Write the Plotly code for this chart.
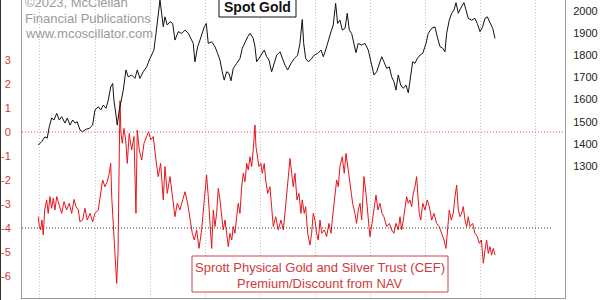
import plotly.graph_objects as go

# ---- data (x in decimal years) ----
gold_t = [2019.485, 2019.515, 2019.545, 2019.566, 2019.584, 2019.606, 2019.627, 2019.652, 2019.675, 2019.697,
          2019.727, 2019.748, 2019.772, 2019.797, 2019.818, 2019.838, 2019.863, 2019.887, 2019.917, 2019.947,
          2019.978, 2019.999, 2020.029, 2020.051, 2020.074, 2020.099, 2020.120, 2020.142, 2020.160, 2020.171,
          2020.190, 2020.201, 2020.220, 2020.241, 2020.256, 2020.280, 2020.301, 2020.332, 2020.362, 2020.383,
          2020.407, 2020.437, 2020.468, 2020.492, 2020.514, 2020.534, 2020.553, 2020.568, 2020.589, 2020.604,
          2020.619, 2020.634, 2020.655, 2020.680, 2020.704, 2020.725, 2020.755, 2020.786, 2020.816, 2020.846,
          2020.870, 2020.891, 2020.906, 2020.931, 2020.952, 2020.973, 2020.991, 2021.009, 2021.027, 2021.058,
          2021.088, 2021.112, 2021.133, 2021.154, 2021.172, 2021.194, 2021.215, 2021.233, 2021.254, 2021.285,
          2021.315, 2021.336, 2021.360, 2021.385, 2021.406, 2021.435, 2021.451, 2021.466, 2021.487, 2021.512,
          2021.535, 2021.557, 2021.578, 2021.602, 2021.626, 2021.648, 2021.678, 2021.699, 2021.723, 2021.748,
          2021.778, 2021.808, 2021.838, 2021.859, 2021.880, 2021.893, 2021.911, 2021.935, 2021.959, 2021.989,
          2022.020, 2022.050, 2022.071, 2022.092, 2022.116, 2022.141, 2022.161, 2022.183, 2022.201, 2022.222,
          2022.243, 2022.268, 2022.288, 2022.307, 2022.328, 2022.349, 2022.367, 2022.388, 2022.419, 2022.449,
          2022.479, 2022.510, 2022.531, 2022.555, 2022.579, 2022.601, 2022.621, 2022.646, 2022.670, 2022.691,
          2022.712, 2022.730, 2022.751, 2022.773, 2022.797, 2022.821, 2022.842, 2022.864, 2022.882, 2022.903,
          2022.924, 2022.948, 2022.973, 2023.003, 2023.023, 2023.054, 2023.084, 2023.105, 2023.130, 2023.154,
          2023.175, 2023.190, 2023.214, 2023.236, 2023.257, 2023.275, 2023.296, 2023.317, 2023.347, 2023.366,
          2023.386, 2023.417, 2023.447, 2023.468, 2023.493, 2023.517, 2023.538, 2023.559, 2023.583, 2023.608,
          2023.629]
gold_px = [1395, 1410, 1432, 1426, 1477, 1517, 1508, 1538, 1508, 1523,
           1494, 1517, 1485, 1508, 1494, 1500, 1463, 1455, 1466, 1470,
           1485, 1553, 1568, 1553, 1575, 1561, 1598, 1658, 1673, 1598,
           1530, 1485, 1553, 1598, 1643, 1734, 1703, 1711, 1696, 1734,
           1696, 1726, 1748, 1779, 1801, 1824, 1899, 1974, 2050, 1990,
           1929, 1974, 1937, 1952, 1944, 1869, 1907, 1899, 1914, 1900,
           1877, 1854, 1771, 1839, 1869, 1907, 1929, 1944, 1854, 1861,
           1839, 1809, 1779, 1726, 1688, 1726, 1719, 1685, 1741, 1764,
           1786, 1832, 1861, 1884, 1899, 1877, 1839, 1771, 1786, 1809,
           1824, 1794, 1779, 1726, 1764, 1801, 1816, 1786, 1756, 1734,
           1764, 1786, 1801, 1854, 1962, 1854, 1786, 1771, 1782, 1801,
           1809, 1824, 1794, 1824, 1869, 1907, 1937, 2035, 1944, 1959,
           1914, 1922, 1990, 1914, 1899, 1854, 1812, 1854, 1846, 1854,
           1824, 1756, 1711, 1726, 1764, 1794, 1771, 1741, 1748, 1703,
           1681, 1643, 1711, 1666, 1651, 1666, 1631, 1719, 1771, 1764,
           1786, 1801, 1809, 1854, 1899, 1922, 1929, 1884, 1839, 1832,
           1816, 1899, 1959, 1990, 2005, 2038, 1990, 2012, 2038, 2005,
           1967, 1959, 1967, 1944, 1907, 1929, 1967, 1974, 1944, 1922,
           1877]

cef_t = [2019.485, 2019.494, 2019.506, 2019.518, 2019.530, 2019.543, 2019.561, 2019.575, 2019.591, 2019.606,
         2019.621, 2019.636, 2019.652, 2019.675, 2019.697, 2019.718, 2019.742, 2019.766, 2019.788, 2019.809,
         2019.827, 2019.848, 2019.863, 2019.887, 2019.908, 2019.929, 2019.954, 2019.978, 2019.999, 2020.029,
         2020.051, 2020.069, 2020.090, 2020.111, 2020.129, 2020.142, 2020.151, 2020.160, 2020.171, 2020.183,
         2020.196, 2020.208, 2020.217, 2020.226, 2020.235, 2020.247, 2020.262, 2020.278, 2020.292, 2020.310,
         2020.332, 2020.353, 2020.371, 2020.383, 2020.401, 2020.423, 2020.444, 2020.468, 2020.486, 2020.505,
         2020.528, 2020.553, 2020.573, 2020.595, 2020.619, 2020.634, 2020.655, 2020.680, 2020.704, 2020.725,
         2020.746, 2020.770, 2020.795, 2020.816, 2020.840, 2020.861, 2020.882, 2020.900, 2020.922, 2020.943,
         2020.967, 2020.991, 2021.012, 2021.027, 2021.043, 2021.058, 2021.073, 2021.088, 2021.103, 2021.118,
         2021.133, 2021.149, 2021.163, 2021.179, 2021.194, 2021.209, 2021.224, 2021.240, 2021.254, 2021.269,
         2021.285, 2021.299, 2021.315, 2021.330, 2021.345, 2021.360, 2021.376, 2021.390, 2021.406, 2021.421,
         2021.435, 2021.451, 2021.460, 2021.475, 2021.487, 2021.505, 2021.517, 2021.535, 2021.548, 2021.566,
         2021.587, 2021.602, 2021.617, 2021.639, 2021.662, 2021.687, 2021.708, 2021.723, 2021.739, 2021.753,
         2021.769, 2021.784, 2021.798, 2021.814, 2021.832, 2021.850, 2021.868, 2021.880, 2021.898, 2021.911,
         2021.929, 2021.950, 2021.965, 2021.980, 2021.995, 2022.010, 2022.025, 2022.041, 2022.056, 2022.080,
         2022.101, 2022.122, 2022.141, 2022.152, 2022.171, 2022.192, 2022.207, 2022.222, 2022.243, 2022.261,
         2022.277, 2022.298, 2022.319, 2022.337, 2022.358, 2022.373, 2022.388, 2022.404, 2022.419, 2022.440,
         2022.458, 2022.476, 2022.494, 2022.513, 2022.531, 2022.549, 2022.567, 2022.585, 2022.603, 2022.621,
         2022.646, 2022.670, 2022.691, 2022.712, 2022.730, 2022.751, 2022.767, 2022.782, 2022.797, 2022.812,
         2022.827, 2022.842, 2022.857, 2022.873, 2022.887, 2022.903, 2022.918, 2022.930, 2022.942, 2022.955,
         2022.973, 2022.994, 2023.014, 2023.033, 2023.054, 2023.075, 2023.099, 2023.123, 2023.145, 2023.166,
         2023.184, 2023.196, 2023.214, 2023.232, 2023.250, 2023.266, 2023.281, 2023.296, 2023.311, 2023.326,
         2023.341, 2023.357, 2023.372, 2023.386, 2023.402, 2023.426, 2023.447, 2023.468, 2023.486, 2023.505,
         2023.523, 2023.538, 2023.553, 2023.568, 2023.583, 2023.598, 2023.613, 2023.629]
cef_prem = [-3.53, -3.94, -4.08, -3.67, -4.29, -3.25, -2.83, -3.39, -2.69, -3.18,
            -2.76, -3.25, -2.69, -3.11, -3.39, -2.90, -3.25, -2.97, -3.39, -2.81,
            -3.11, -3.25, -3.74, -3.67, -3.18, -3.67, -3.39, -3.74, -3.39, -3.25,
            -2.56, -2.00, -2.28, -2.07, -1.72, -1.31, -2.69, -3.39, -4.08, -4.92,
            -6.31, -5.06, -1.17, 1.30, -0.06, -0.47, 0.15, -0.33, -1.31, -0.06,
            -0.75, -0.19, -3.39, 0.08, -0.75, -1.17, -0.47, -0.19, 0.01, -0.33,
            -0.19, -1.17, -1.86, -1.31, -2.83, -1.44, -2.56, -1.86, -2.69, -3.53,
            -2.97, -3.25, -2.83, -2.49, -2.97, -3.53, -4.22, -4.50, -4.08, -4.85,
            -4.08, -2.83, -1.79, -2.69, -3.94, -4.85, -3.25, -3.94, -3.39, -2.35,
            -2.83, -3.67, -4.08, -3.67, -4.22, -4.78, -4.22, -4.50, -3.94, -4.22,
            -3.53, -2.97, -3.39, -2.28, -1.72, -2.07, -1.31, -1.58, -1.03, -1.44,
            -0.75, 0.29, -0.61, -1.17, -1.44, -1.31, -1.72, -1.31, -2.00, -2.56,
            -2.28, -3.11, -3.94, -3.53, -4.08, -3.67, -4.08, -3.39, -2.56, -1.72,
            -1.10, -1.72, -2.28, -1.72, -2.83, -2.56, -3.39, -2.83, -3.39, -3.11,
            -4.22, -4.71, -4.22, -3.39, -3.67, -4.22, -4.50, -3.67, -4.22, -4.08,
            -4.36, -3.81, -4.22, -3.67, -2.83, -2.00, -2.28, -1.44, -1.03, -1.72,
            -0.89, -1.58, -2.28, -2.97, -3.39, -3.81, -3.25, -2.97, -3.67, -1.86,
            -2.56, -3.39, -4.36, -3.81, -3.11, -2.63, -3.25, -2.97, -3.39, -3.53,
            -3.94, -3.81, -4.08, -4.22, -3.81, -4.08, -3.53, -4.08, -3.67, -3.11,
            -2.69, -2.97, -2.83, -3.11, -2.56, -2.28, -1.86, -2.69, -3.39, -3.67,
            -2.97, -3.25, -2.83, -3.11, -3.67, -3.39, -3.81, -3.94, -4.22, -4.50,
            -4.85, -4.22, -3.25, -3.67, -3.39, -2.69, -2.21, -3.25, -3.53, -3.39,
            -3.11, -3.67, -3.94, -3.53, -3.94, -3.81, -4.22, -4.36, -4.64, -4.50,
            -5.47, -4.92, -4.50, -5.06, -4.78, -5.13, -4.85, -5.13]

left_ticks = [3, 2, 1, 0, -1, -2, -3, -4, -5, -6]
right_ticks = [1300, 1400, 1500, 1600, 1700, 1800, 1900, 2000]
x_range = [2019.337, 2024.264]
prem_range = [-6.917, 5.5]
gold_range = [704, 2050]

FONT = "Liberation Sans, Arial, sans-serif"
RED_TXT = "#cc3b3b"
GRID = "#c4c4c4"
FRAME = "#9c9c9c"

fig = go.Figure()
fig.add_trace(go.Scatter(x=cef_t, y=cef_prem, mode="lines", yaxis="y",
                         line=dict(color="#e8141b", width=1), showlegend=False))
fig.add_trace(go.Scatter(x=gold_t, y=gold_px, mode="lines", yaxis="y2",
                         line=dict(color="#111111", width=1), showlegend=False))

W, H = 600, 300
L, R, T, B = 22, 35, 0, 2
pw, ph = W - L - R, H - T - B


def px_x(x):
    return (x - L) / pw


def px_y(y):
    return 1 - (y - T) / ph


shapes = [
    dict(type="line", xref="paper", yref="y", x0=0, x1=1, y0=0, y1=0,
         line=dict(color="#e05050", width=1, dash="1px,2px"), layer="above"),
    dict(type="line", xref="paper", yref="y", x0=0, x1=px_x(552), y0=-4, y1=-4,
         line=dict(color="#333333", width=1, dash="1px,2px"), layer="above"),
    dict(type="rect", xref="paper", yref="paper", x0=px_x(219), x1=px_x(296),
         y0=px_y(17), y1=px_y(-5), line=dict(color="#111111", width=1),
         fillcolor="white", layer="above"),
    dict(type="rect", xref="paper", yref="paper", x0=px_x(192), x1=px_x(448),
         y0=px_y(292), y1=px_y(256), line=dict(color="#d04040", width=1),
         fillcolor="white", layer="above"),
    dict(type="line", xref="paper", yref="paper", x0=px_x(0.5), x1=px_x(0.5),
         y0=px_y(300), y1=px_y(0), line=dict(color="#333333", width=1)),
]

annotations = [
    dict(text="©2023, McClellan", x=px_x(23), y=px_y(2.5)),
    dict(text="Financial Publications", x=px_x(23), y=px_y(18)),
    dict(text="www.mcoscillator.com", x=px_x(23), y=px_y(33.5)),
]
for a in annotations:
    a.update(xref="paper", yref="paper", xanchor="left", yanchor="middle",
             showarrow=False, font=dict(family=FONT, size=13, color="#9a9a9a"))

annotations += [
    dict(text="<b>Spot Gold</b>", x=px_x(257.5), y=px_y(7), xref="paper", yref="paper",
         xanchor="center", yanchor="middle", showarrow=False,
         font=dict(family=FONT, size=14, color="#111111")),
    dict(text="Sprott Physical Gold and Silver Trust (CEF)", x=px_x(320), y=px_y(267),
         xref="paper", yref="paper", xanchor="center", yanchor="middle", showarrow=False,
         font=dict(family=FONT, size=13, color=RED_TXT)),
    dict(text="Premium/Discount from NAV", x=px_x(320), y=px_y(283),
         xref="paper", yref="paper", xanchor="center", yanchor="middle", showarrow=False,
         font=dict(family=FONT, size=13, color=RED_TXT)),
    dict(text="-7", x=px_x(14), y=-7, xref="paper", yref="y",
         xanchor="right", yanchor="middle", showarrow=False,
         font=dict(family=FONT, size=11, color=RED_TXT)),
]

fig.update_layout(
    width=W, height=H,
    margin=dict(l=L, r=R, t=T, b=B, pad=0),
    paper_bgcolor="white", plot_bgcolor="white",
    showlegend=False,
    font=dict(family=FONT, size=11),
    xaxis=dict(range=x_range, tick0=2019.5, dtick=0.5, showticklabels=False,
               showgrid=True, gridcolor=GRID, griddash="1px,2px", gridwidth=1,
               zeroline=False, showline=True, linecolor=FRAME, linewidth=1, ticks=""),
    yaxis=dict(range=prem_range, tickmode="array", tickvals=left_ticks,
               ticktext=[str(v) for v in left_ticks],
               tickfont=dict(family=FONT, size=11, color=RED_TXT),
               showgrid=False, zeroline=False, showline=True, linecolor=FRAME,
               linewidth=1, ticks="", ticklabelstandoff=8),
    yaxis2=dict(range=gold_range, overlaying="y", side="right", tickmode="array",
                tickvals=right_ticks, ticktext=[str(v) for v in right_ticks],
                tickfont=dict(family=FONT, size=11, color="#222222"),
                showgrid=False, zeroline=False, showline=True, linecolor=FRAME,
                linewidth=1, ticks="", ticklabelstandoff=5),
    shapes=shapes,
    annotations=annotations,
)

fig.write_html("out.html")
